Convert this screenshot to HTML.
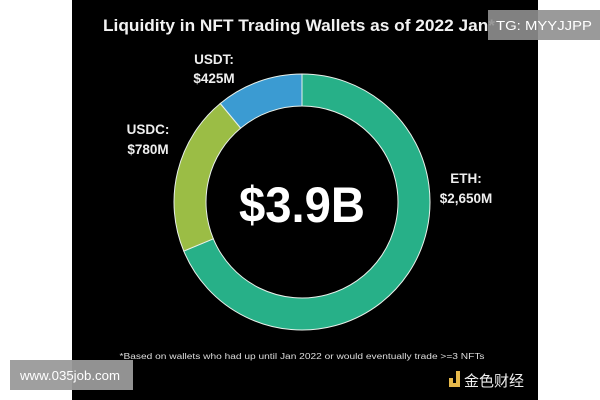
<!DOCTYPE html>
<html><head><meta charset="utf-8"><style>
html,body{margin:0;padding:0;background:#fff;width:600px;height:400px;overflow:hidden}
svg{display:block}
text{font-family:"Liberation Sans",sans-serif}
</style></head><body>
<svg id="chart" width="600" height="400" viewBox="0 0 600 400">
<rect x="72" y="0" width="466" height="400" fill="#000"/>
<text x="103" y="31" font-size="17" font-weight="bold" fill="#f2f2f2" textLength="392" lengthAdjust="spacingAndGlyphs">Liquidity in NFT Trading Wallets as of 2022 Jan*</text>
<g id="slices"></g>
<text x="302" y="222" font-size="50" font-weight="bold" fill="#fff" text-anchor="middle" textLength="126" lengthAdjust="spacingAndGlyphs">$3.9B</text>
<g id="labels" font-size="13.5" font-weight="bold" fill="#eee"></g>
<text x="302" y="359" font-size="8" fill="#ddd" text-anchor="middle" textLength="365" lengthAdjust="spacingAndGlyphs">*Based on wallets who had up until Jan 2022 or would eventually trade &gt;=3 NFTs</text>
<rect x="488" y="10" width="112" height="30" fill="#8f8f8f" opacity="0.9"/>
<text x="496" y="30" font-size="12.5" fill="#fff" textLength="96" lengthAdjust="spacingAndGlyphs">TG: MYYJJPP</text>
<rect x="10" y="360" width="123" height="30" fill="#9a9a9a" opacity="0.95"/>
<text x="20" y="380" font-size="12.5" fill="#fff" textLength="100" lengthAdjust="spacingAndGlyphs">www.035job.com</text>
<g>
<rect x="449" y="378" width="4" height="5" fill="#e6b84a"/>
<path d="M456 371 h4 v16 h-11 v-4 h7z" fill="#e6b84a"/>
<text x="464" y="386" font-size="15" fill="#eee" font-family="'Noto Sans CJK SC',sans-serif">金色财经</text>
</g>
</svg>
<script>
const categories = ["ETH", "USDC", "USDT"];
const values = [2650, 780, 425];
const valueLabels = ["$2,650M", "$780M", "$425M"];
const colors = ["#27b088", "#9bbd45", "#3b9bd2"];
const cx = 302, cy = 202, rOut = 128, rIn = 96;
const ns = "http://www.w3.org/2000/svg";
const total = values.reduce((a, b) => a + b, 0);
function angle(v) { return v / total * 2 * Math.PI; }
function pt(a, r) { return [cx + r * Math.sin(a), cy - r * Math.cos(a)]; }
const g = document.getElementById("slices");
const lg = document.getElementById("labels");
const labelPos = [[466, 183, 466, 203], [148, 134, 148, 154], [214, 64, 214, 83]];
let acc = 0;
values.forEach((v, i) => {
  const a0 = angle(acc), a1 = angle(acc + v);
  acc += v;
  const large = a1 - a0 > Math.PI ? 1 : 0;
  const [x0, y0] = pt(a0, rOut), [x1, y1] = pt(a1, rOut);
  const [x2, y2] = pt(a1, rIn), [x3, y3] = pt(a0, rIn);
  const p = document.createElementNS(ns, "path");
  p.setAttribute("d", `M${x0} ${y0} A${rOut} ${rOut} 0 ${large} 1 ${x1} ${y1} L${x2} ${y2} A${rIn} ${rIn} 0 ${large} 0 ${x3} ${y3}Z`);
  p.setAttribute("fill", colors[i]);
  p.setAttribute("stroke", "#e8f0ea");
  p.setAttribute("stroke-width", "1");
  
  
  g.appendChild(p);
  const lp = labelPos[i];
  const t1 = document.createElementNS(ns, "text");
  t1.setAttribute("x", lp[0]); t1.setAttribute("y", lp[1]);
  t1.setAttribute("text-anchor", "middle");
  t1.textContent = categories[i] + ":";
  
  
  lg.appendChild(t1);
  const t2 = document.createElementNS(ns, "text");
  t2.setAttribute("x", lp[2]); t2.setAttribute("y", lp[3]);
  t2.setAttribute("text-anchor", "middle");
  t2.textContent = valueLabels[i];
  
  
  lg.appendChild(t2);
});
</script>
</body></html>
